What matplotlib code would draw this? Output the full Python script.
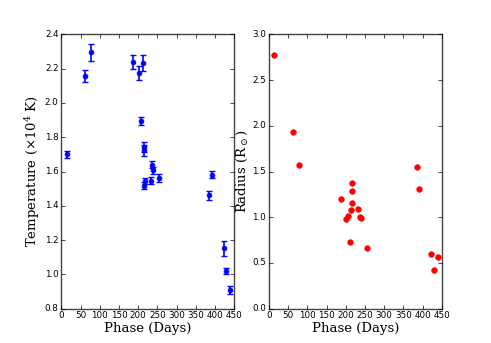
import numpy as np
import matplotlib
matplotlib.use('Agg')
import matplotlib.pyplot as plt

plt.style.use('classic')
plt.rcParams['font.size'] = 7
plt.rcParams['mathtext.fontset'] = 'dejavuserif'

# phase of each epoch (days)
phase = [14, 62, 78, 187, 201, 207, 212, 214, 215, 216, 217,
         233, 237, 239, 255, 385, 391, 422, 429, 439]
# temperature in 10^4 K and its error
temp = [1.70, 2.157, 2.295, 2.239, 2.173, 1.895, 2.233, 1.741, 1.723, 1.518, 1.545,
        1.547, 1.640, 1.607, 1.561, 1.461, 1.580, 1.152, 1.020, 0.909]
temp_err = [0.02, 0.035, 0.05, 0.04, 0.04, 0.025, 0.045, 0.03, 0.03, 0.02, 0.02,
            0.02, 0.02, 0.02, 0.025, 0.025, 0.02, 0.045, 0.02, 0.025]
# radius in solar radii
radius = [2.774, 1.931, 1.573, 1.201, 0.978, 1.015, 0.730, 1.084, 1.153, 1.372, 1.292,
          1.095, 1.000, 0.989, 0.668, 1.544, 1.314, 0.599, 0.423, 0.569]

fig = plt.figure(figsize=(4.91, 3.43), dpi=100, facecolor='white')
ax1 = fig.add_subplot(121)
ax2 = fig.add_subplot(122)
fig.subplots_adjust(left=0.125, right=0.9, bottom=0.1, top=0.9, wspace=0.2)

ax1.errorbar(phase, temp, yerr=temp_err, fmt='o', color='b', mec='b',
             ms=3.5, capsize=2, elinewidth=1.2, capthick=1)
ax1.set_xlim(0, 450)
ax1.set_ylim(0.8, 2.4)
ax1.set_xticks(np.arange(0, 451, 50))
ax1.set_yticks(np.arange(0.8, 2.41, 0.2))
ax1.set_xlabel('Phase (Days)', family='serif', fontsize=9.5, labelpad=1)
ax1.set_ylabel(r'Temperature ($\times 10^4$ K)', family='serif', fontsize=9.5, labelpad=2)

ax2.plot(phase, radius, 'o', color='r', mec='r', ms=4)
ax2.set_xlim(0, 450)
ax2.set_ylim(0.0, 3.0)
ax2.set_xticks(np.arange(0, 451, 50))
ax2.set_yticks(np.arange(0, 3.01, 0.5))
ax2.set_xlabel('Phase (Days)', family='serif', fontsize=9.5, labelpad=1)
ax2.set_ylabel(r'Radius (R$_\odot$)', family='serif', fontsize=9.5, labelpad=2)

for ax in (ax1, ax2):
    ax.tick_params(labelsize=6.3, length=3, pad=2)
    for s in ax.spines.values():
        s.set_color('#444444')

plt.savefig('out.png', dpi=100, facecolor='white')
